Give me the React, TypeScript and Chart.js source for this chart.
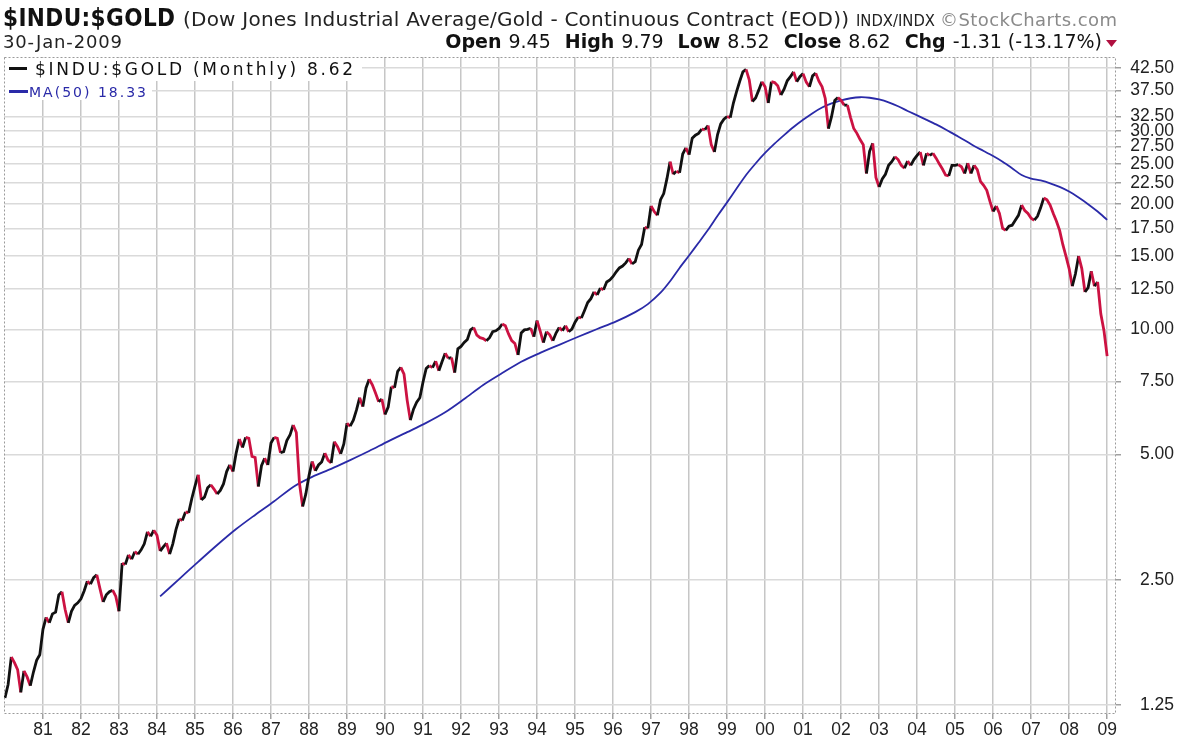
import React, { useEffect, useRef } from "react";
import { Chart, registerables } from "chart.js";

Chart.register(...registerables);

// ---- Data: monthly $INDU:$GOLD closes, Jan 1980 .. Jan 2009 ----
const PRICE_1980 = [1.30, 1.40, 1.63, 1.58, 1.52, 1.34, 1.51, 1.46, 1.39, 1.50, 1.60, 1.65];
const PRICE_1981 = [1.90, 2.03, 1.97, 2.07, 2.09, 2.30, 2.34, 2.12, 1.97, 2.10, 2.17, 2.20];
const PRICE_1982 = [2.25, 2.35, 2.48, 2.44, 2.53, 2.57, 2.38, 2.21, 2.30, 2.34, 2.36, 2.28];
const PRICE_1983 = [2.10, 2.74, 2.72, 2.87, 2.80, 2.92, 2.88, 2.95, 3.05, 3.26, 3.18, 3.29];
const PRICE_1984 = [3.20, 2.93, 3.00, 3.06, 2.88, 3.05, 3.30, 3.50, 3.47, 3.64, 3.62, 3.92];
const PRICE_1985 = [4.20, 4.47, 3.89, 3.95, 4.16, 4.23, 4.13, 4.02, 4.10, 4.25, 4.55, 4.72];
const PRICE_1986 = [4.55, 5.04, 5.45, 5.20, 5.50, 5.47, 4.95, 4.92, 4.19, 4.70, 4.90, 4.72];
const PRICE_1987 = [5.33, 5.50, 5.47, 5.05, 5.08, 5.40, 5.57, 5.89, 5.65, 4.26, 3.75, 4.02];
const PRICE_1988 = [4.45, 4.81, 4.57, 4.72, 4.80, 5.04, 4.85, 4.77, 5.37, 5.22, 5.02, 5.30];
const PRICE_1989 = [5.95, 5.85, 6.05, 6.40, 6.85, 6.52, 7.23, 7.59, 7.36, 7.03, 6.70, 6.80];
const PRICE_1990 = [6.24, 6.50, 7.28, 7.24, 7.93, 8.10, 7.80, 6.75, 6.05, 6.43, 6.68, 6.85];
const PRICE_1991 = [7.47, 8.05, 8.18, 8.09, 8.39, 7.95, 8.36, 8.76, 8.52, 8.55, 7.87, 8.98];
const PRICE_1992 = [9.10, 9.30, 9.46, 9.97, 10.10, 9.68, 9.55, 9.50, 9.39, 9.55, 9.87, 9.92];
const PRICE_1993 = [10.05, 10.30, 10.20, 9.75, 9.40, 9.25, 8.68, 9.80, 9.97, 10.00, 10.06, 9.60];
const PRICE_1994 = [10.50, 9.90, 9.29, 9.87, 9.70, 9.39, 9.80, 10.10, 9.93, 10.20, 9.87, 10.01];
const PRICE_1995 = [10.40, 10.70, 10.65, 11.10, 11.60, 11.85, 12.30, 12.10, 12.56, 12.45, 13.00, 13.15];
const PRICE_1996 = [13.40, 13.75, 14.05, 14.20, 14.45, 14.80, 14.36, 14.55, 15.50, 16.00, 17.60, 17.50];
const PRICE_1997 = [19.80, 19.20, 18.80, 20.50, 21.20, 23.00, 25.30, 23.60, 24.00, 23.80, 26.40, 27.30];
const PRICE_1998 = [26.30, 28.80, 29.30, 29.60, 30.30, 30.20, 30.90, 27.80, 26.70, 29.40, 31.20, 32.00];
const PRICE_1999 = [32.50, 32.30, 35.00, 37.30, 39.50, 41.60, 42.20, 39.80, 35.30, 36.00, 37.60, 39.40];
const PRICE_2000 = [38.30, 35.00, 39.40, 39.20, 38.50, 36.60, 37.80, 39.60, 40.50, 41.60, 39.40, 40.50];
const PRICE_2001 = [41.20, 39.30, 38.30, 40.70, 41.30, 39.50, 38.30, 35.90, 30.40, 32.50, 35.50, 36.10];
const PRICE_2002 = [35.50, 34.60, 34.60, 32.30, 30.40, 29.60, 28.60, 27.80, 23.70, 26.80, 28.00, 23.20];
const PRICE_2003 = [22.00, 23.00, 23.60, 24.80, 25.30, 26.00, 25.60, 24.80, 24.40, 25.40, 24.80, 25.60];
const PRICE_2004 = [26.20, 26.70, 24.80, 26.50, 26.20, 26.50, 25.80, 25.00, 24.30, 23.50, 23.40, 24.80];
const PRICE_2005 = [24.80, 24.90, 24.60, 23.70, 25.10, 23.70, 24.80, 24.20, 22.70, 22.20, 21.60, 20.30];
const PRICE_2006 = [19.20, 19.80, 19.00, 17.50, 17.30, 17.70, 17.80, 18.30, 18.80, 19.90, 19.30, 19.00];
const PRICE_2007 = [18.50, 18.30, 18.70, 19.60, 20.70, 20.50, 19.90, 19.00, 18.20, 17.30, 16.00, 15.00];
const PRICE_2008 = [14.00, 12.70, 13.60, 15.00, 14.00, 12.30, 12.60, 13.80, 12.70, 13.00, 10.90, 9.93];
const PRICE_2009 = [8.62];

const PRICE = [
  ...PRICE_1980, ...PRICE_1981, ...PRICE_1982, ...PRICE_1983, ...PRICE_1984,
  ...PRICE_1985, ...PRICE_1986, ...PRICE_1987, ...PRICE_1988, ...PRICE_1989,
  ...PRICE_1990, ...PRICE_1991, ...PRICE_1992, ...PRICE_1993, ...PRICE_1994,
  ...PRICE_1995, ...PRICE_1996, ...PRICE_1997, ...PRICE_1998, ...PRICE_1999,
  ...PRICE_2000, ...PRICE_2001, ...PRICE_2002, ...PRICE_2003, ...PRICE_2004,
  ...PRICE_2005, ...PRICE_2006, ...PRICE_2007, ...PRICE_2008, ...PRICE_2009,
];

// MA(50): month index (0 = Jan 1980) and value
const MA_MONTHS = [
  49, 55, 61, 67, 73, 79, 85, 91, 97, 103, 109, 115, 121, 127, 133, 139, 145, 151,
  157, 163, 169, 175, 181, 187, 193, 199, 203, 207, 210, 213, 216, 219, 222, 225,
  228, 231, 234, 237, 240, 243, 246, 249, 252, 255, 258, 261, 264, 267, 270, 273,
  276, 279, 282, 285, 288, 291, 294, 297, 300, 303, 306, 309, 312, 315, 318, 321,
  324, 327, 330, 333, 336, 339, 342, 345, 348,
];
const MA_VALUES = [
  2.28, 2.51, 2.76, 3.03, 3.31, 3.58, 3.86, 4.18, 4.42, 4.62, 4.85, 5.10, 5.38, 5.66, 5.96, 6.32, 6.80, 7.35,
  7.85, 8.36, 8.78, 9.18, 9.60, 10.02, 10.45, 11.00, 11.50, 12.25, 13.05, 14.05, 15.05, 16.15, 17.35, 18.75,
  20.20, 21.80, 23.50, 25.05, 26.55, 27.95, 29.30, 30.65, 31.90, 33.10, 34.15, 34.95, 35.55, 35.95, 36.15, 36.05,
  35.70, 35.15, 34.40, 33.50, 32.70, 31.90, 31.10, 30.25, 29.35, 28.50, 27.60, 26.85, 26.10, 25.30, 24.40, 23.50,
  23.05, 22.80, 22.45, 22.00, 21.45, 20.75, 20.00, 19.20, 18.33,
];

const X_TICK_LABELS = [
  "81", "82", "83", "84", "85", "86", "87", "88", "89", "90", "91", "92", "93", "94",
  "95", "96", "97", "98", "99", "00", "01", "02", "03", "04", "05", "06", "07", "08", "09",
];
const Y_TICKS = [1.25, 2.5, 5, 7.5, 10, 12.5, 15, 17.5, 20, 22.5, 25, 27.5, 30, 32.5, 37.5, 42.5];

const X_MIN = -0.3;
const X_MAX = 350.8;
const Y_MIN = 1.189;
const Y_MAX = 45.17;

const UP = "#111111";
const DOWN = "#cc1242";
const MA_COLOR = "#2a2aa8";
const VFONT = "'DejaVu Sans', Verdana, sans-serif";
const AFONT = "'Liberation Sans', Arial, sans-serif";

function fitText(ctx: CanvasRenderingContext2D, text: string, x: number, y: number, font: string, color: string, width?: number, align: "left" | "right" = "left") {
  ctx.save();
  ctx.font = font;
  ctx.fillStyle = color;
  ctx.textBaseline = "alphabetic";
  ctx.textAlign = "left";
  const natural = ctx.measureText(text).width;
  const w = width ?? natural;
  const left = align === "right" ? x - w : x;
  if (width && width > natural) {
    const ls = (width - natural) / Math.max(1, text.length - 1);
    (ctx as any).letterSpacing = ls + "px";
    ctx.fillText(text, left, y);
  } else if (width && width < natural) {
    ctx.translate(left, y);
    ctx.scale(width / natural, 1);
    ctx.fillText(text, 0, 0);
  } else {
    ctx.fillText(text, left, y);
  }
  ctx.restore();
  return w;
}

const decorPlugin = {
  id: "decor",
  beforeDraw(chart: any) {
    const { ctx, width, height } = chart;
    ctx.save();
    ctx.fillStyle = "#ffffff";
    ctx.fillRect(0, 0, width, height);
    ctx.restore();
  },
  afterDraw(chart: any) {
    const { ctx } = chart;
    const a = chart.chartArea;
    ctx.save();

    // legend boxes
    ctx.fillStyle = "#ffffff";
    ctx.fillRect(a.left + 1, a.top + 1, 357, 23);
    ctx.fillRect(a.left + 1, a.top + 23, 147, 20);

    // dotted plot border
    ctx.strokeStyle = "#9a9a9a";
    ctx.lineWidth = 1;
    ctx.setLineDash([2, 2]);
    ctx.strokeRect(a.left + 0.5, a.top + 0.5, a.right - a.left - 1, a.bottom - a.top - 1);
    ctx.setLineDash([]);

    // legend entries
    ctx.fillStyle = UP;
    ctx.fillRect(a.left + 5, a.top + 10, 18, 3);
    fitText(ctx, "$INDU:$GOLD (Monthly) 8.62", a.left + 31, a.top + 18, "17px " + VFONT, "#111", 318);
    ctx.fillStyle = MA_COLOR;
    ctx.fillRect(a.left + 5, a.top + 33, 19, 3);
    fitText(ctx, "MA(50) 18.33", a.left + 25, a.top + 40, "14px " + VFONT, MA_COLOR, 117);

    // header line 1
    fitText(ctx, "$INDU:$GOLD", 3, 26, "bold 24px 'DejaVu Sans Condensed', " + VFONT, "#111", 172);
    fitText(ctx, "(Dow Jones Industrial Average/Gold - Continuous Contract (EOD))", 183, 26, "20px " + VFONT, "#222", 666);
    const scW = fitText(ctx, "\u00A9StockCharts.com", 1117, 26, "18px " + VFONT, "#8a8a8a", 177, "right");
    fitText(ctx, "INDX/INDX", 1117 - scW - 5, 26, "16px " + VFONT, "#222", 79, "right");

    // header line 2
    fitText(ctx, "30-Jan-2009", 3, 48, "18px " + VFONT, "#222", 119);
    const parts: [string, boolean][] = [
      ["Open", true], ["9.45", false], ["High", true], ["9.79", false], ["Low", true], ["8.52", false],
      ["Close", true], ["8.62", false], ["Chg", true], ["-1.31", false], ["(-13.17%)", false],
    ];
    let rx = 1102;
    for (let i = parts.length - 1; i >= 0; i--) {
      const [t, bold] = parts[i];
      const font = (bold ? "bold " : "") + "19px " + VFONT;
      ctx.font = font;
      const w = ctx.measureText(t).width;
      fitText(ctx, t, rx, 48, font, "#111", undefined, "right");
      let gap = 7;
      if (bold) gap = 14;
      else if (i > 0 && !parts[i - 1][1]) gap = 6;
      rx -= w + gap;
    }
    // down triangle
    ctx.fillStyle = "#b01040";
    ctx.beginPath();
    ctx.moveTo(1106, 40);
    ctx.lineTo(1117, 40);
    ctx.lineTo(1111.5, 47);
    ctx.closePath();
    ctx.fill();

    ctx.restore();
  },
};

export default function App() {
  const ref = useRef<HTMLCanvasElement | null>(null);
  useEffect(() => {
    const canvas = ref.current;
    if (!canvas) return;
    const chart = new Chart(canvas, {
      type: "line",
      data: {
        datasets: [
          {
            label: "$INDU:$GOLD",
            data: PRICE.map((v, i) => ({ x: i, y: v })),
            borderColor: UP,
            borderWidth: 2.8,
            pointRadius: 0,
            tension: 0,
            order: 0,
            segment: {
              borderColor: (c: any) => (c.p1.parsed.y < c.p0.parsed.y ? DOWN : UP),
            },
          },
          {
            label: "MA(50)",
            data: MA_MONTHS.map((m, i) => ({ x: m, y: MA_VALUES[i] })),
            borderColor: MA_COLOR,
            borderWidth: 1.8,
            pointRadius: 0,
            tension: 0.3,
            order: 1,
          },
        ],
      },
      options: {
        animation: false,
        responsive: false,
        maintainAspectRatio: false,
        events: [],
        layout: { padding: { left: 4, top: 57, right: 5, bottom: 0 } },
        plugins: { legend: { display: false }, tooltip: { enabled: false } },
        scales: {
          x: {
            type: "linear",
            position: "bottom",
            min: X_MIN,
            max: X_MAX,
            bounds: "data",
            afterBuildTicks: (s: any) => {
              s.ticks = X_TICK_LABELS.map((_, i) => ({ value: (i + 1) * 12 }));
            },
            afterFit: (s: any) => {
              s.height = 29;
            },
            ticks: {
              autoSkip: false,
              maxRotation: 0,
              padding: 1,
              color: "#222",
              font: { family: AFONT, size: 17.5 },
              callback: (_v: any, i: number) => X_TICK_LABELS[i],
            },
            grid: { color: "#c6c6c6", lineWidth: 1.5, tickLength: 5, tickColor: "#a0a0a0", drawTicks: true },
            border: { display: false },
          },
          y: {
            type: "logarithmic",
            position: "right",
            min: Y_MIN,
            max: Y_MAX,
            bounds: "data",
            afterBuildTicks: (s: any) => {
              s.ticks = Y_TICKS.map((v) => ({ value: v }));
            },
            afterFit: (s: any) => {
              s.width = 58;
            },
            ticks: {
              autoSkip: false,
              crossAlign: "far",
              padding: 5,
              color: "#222",
              font: { family: AFONT, size: 17.5 },
              callback: (v: any) => Number(v).toFixed(2),
            },
            grid: { color: "#dadada", lineWidth: 1.5, tickLength: 5, tickColor: "#a0a0a0", drawTicks: true },
            border: { display: false },
          },
        },
      } as any,
      plugins: [decorPlugin],
    });
    return () => chart.destroy();
  }, []);
  return (
    <div style={{ position: "fixed", left: 0, top: 0, width: 1179, height: 743, background: "#fff" }}>
      <canvas ref={ref} width={1179} height={743} style={{ display: "block", width: 1179, height: 743 }} />
    </div>
  );
}
